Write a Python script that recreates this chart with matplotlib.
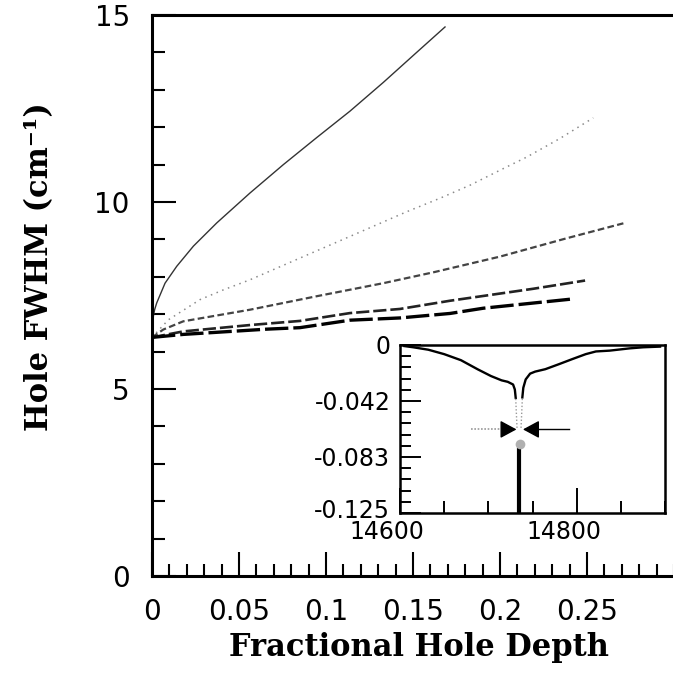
import matplotlib
matplotlib.use("Agg")
import matplotlib.pyplot as plt
import matplotlib.transforms as mtransforms
from matplotlib.ticker import MultipleLocator
import numpy as np

# ---------------- data ----------------
c1_x = [0, 0.0003, 0.0008, 0.0015, 0.0027, 0.0075, 0.0142, 0.0238, 0.0372, 0.0563, 0.0755, 0.0946, 0.1138, 0.133, 0.1521, 0.1684]
c1_y = [6.38, 6.70, 6.95, 7.12, 7.30, 7.83, 8.28, 8.82, 9.44, 10.24, 11.00, 11.72, 12.43, 13.20, 14.00, 14.68]

c2_x = [0, 0.0094, 0.0276, 0.041, 0.0563, 0.085, 0.1138, 0.1464, 0.1655, 0.1828, 0.2, 0.2153, 0.2345, 0.2536]
c2_y = [6.38, 6.85, 7.39, 7.65, 7.92, 8.50, 9.08, 9.74, 10.10, 10.45, 10.85, 11.20, 11.70, 12.25]

c3_x = [0, 0.0065, 0.018, 0.0563, 0.0946, 0.133, 0.1617, 0.2, 0.2383, 0.2709]
c3_y = [6.38, 6.59, 6.81, 7.12, 7.48, 7.83, 8.12, 8.54, 9.03, 9.43]

c4_x = [0, 0.018, 0.0563, 0.085, 0.1138, 0.1425, 0.1713, 0.2191, 0.2489]
c4_y = [6.38, 6.54, 6.71, 6.82, 7.03, 7.14, 7.36, 7.68, 7.90]

c5_x = [0, 0.018, 0.0659, 0.085, 0.1138, 0.1425, 0.1713, 0.1904, 0.2402]
c5_y = [6.38, 6.46, 6.60, 6.64, 6.84, 6.90, 7.02, 7.16, 7.40]

x_ticks = [0, 0.05, 0.1, 0.15, 0.2, 0.25]
x_ticklabels = ["0", "0.05", "0.1", "0.15", "0.2", "0.25"]
y_ticks = [0, 5, 10, 15]
y_ticklabels = ["0", "5", "10", "15"]

# inset spectrum (wavenumber, absorbance change)
left_wn = [14605, 14615, 14632, 14650, 14669, 14688, 14703, 14715, 14722, 14728, 14730, 14731]
left_ab = [-0.0008, -0.0017, -0.0035, -0.0068, -0.0113, -0.0181, -0.0231, -0.0263, -0.0274, -0.0294, -0.0331, -0.0394]
right_wn = [14738.5, 14739.6, 14742.3, 14747.3, 14753, 14764.5, 14779.8, 14795, 14810.3, 14821.8, 14837.2, 14860, 14875.3, 14894.4]
right_ab = [-0.0390, -0.0318, -0.0256, -0.0213, -0.0198, -0.0180, -0.0143, -0.0105, -0.0068, -0.0048, -0.0042, -0.0025, -0.0017, -0.0012]
holeL_wn = [14731, 14732.5]
holeL_ab = [-0.040, -0.062]
holeR_wn = [14738.5, 14737]
holeR_ab = [-0.040, -0.062]
spike_wn = [14735, 14735]
spike_ab = [-0.077, -0.13]
mark_wn = [14736]
mark_ab = [-0.0734]

arrow_y = -0.0628
arrowL_tail, arrowL_tip = 14680, 14731.9
arrowR_tail, arrowR_tip = 14791, 14739.2

in_xticks = [14600, 14800]
in_xticklabels = ["14600", "14800"]
in_yticks = [0, -0.125 / 3, -0.25 / 3, -0.125]
in_yticklabels = ["0", "-0.042", "-0.083", "-0.125"]

# ---------------- figure ----------------
W, H = 673, 687
fig = plt.figure(figsize=(W / 100, H / 100), dpi=100)

def px_axes(l, t, r, b):
    return [l / W, 1 - b / H, (r - l) / W, (b - t) / H]

ax = fig.add_axes(px_axes(152, 15, 674, 576))
ax.set_xlim(0, 0.3)
ax.set_ylim(0, 15)

ax.plot(c1_x, c1_y, color="#333333", lw=1.0)
ax.plot(c2_x, c2_y, color="#8a8a8a", lw=1.1, linestyle=(0, (1, 3)))
ax.plot(c3_x, c3_y, color="#444444", lw=1.6, linestyle=(0, (3, 1.5)))
ax.plot(c4_x, c4_y, color="#222222", lw=1.9, linestyle=(0, (5, 1.5)))
ax.plot(c5_x, c5_y, color="black", lw=2.4, linestyle=(0, (7, 1.5)))

for s in ["left", "bottom", "top"]:
    ax.spines[s].set_linewidth(2.2)
ax.spines["right"].set_visible(False)

tick_font = dict(family="DejaVu Sans", size=20)
ax.set_xticks(x_ticks)
ax.set_xticklabels(x_ticklabels, **tick_font)
ax.set_yticks(y_ticks)
ax.set_yticklabels(y_ticklabels, **tick_font)
ax.xaxis.set_minor_locator(MultipleLocator(0.01))
ax.yaxis.set_minor_locator(MultipleLocator(1))
ax.tick_params(axis="both", which="major", direction="in", length=17, width=1.5, pad=16,
               top=False, right=False)
ax.tick_params(axis="both", which="minor", direction="in", length=9, width=1.5,
               top=False, right=False)

label_font = dict(family="DejaVu Serif", weight="bold", size=22)
fig.text(419 / W, 1 - 656 / H, "Fractional Hole Depth", ha="center", va="baseline", **label_font)
fig.text(40 / W, 1 - 267 / H, "Hole FWHM (cm\u207b\u00b9)", ha="center", va="center",
         rotation=90, **label_font)

# ---------------- inset ----------------
ai = fig.add_axes(px_axes(400, 345, 665, 513))
ai.set_facecolor("white")
ai.set_xlim(14600, 14900)
ai.set_ylim(-0.125, 0)

ai.plot(left_wn, left_ab, color="black", lw=1.7)
ai.plot(right_wn, right_ab, color="black", lw=1.7)
ai.plot(holeL_wn, holeL_ab, color="#999999", lw=1.0, linestyle=(0, (1, 1.5)))
ai.plot(holeR_wn, holeR_ab, color="#999999", lw=1.0, linestyle=(0, (1, 1.5)))
ai.plot(spike_wn, spike_ab, color="black", lw=3.0, solid_capstyle="butt")
ai.plot(mark_wn, mark_ab, "o", color="#b0b0b0", markersize=7, markeredgewidth=0)

# arrows marking the hole width
ai.plot([arrowL_tail, arrowL_tip - 14], [arrow_y, arrow_y], color="#999999", lw=1.2,
        linestyle=(0, (1, 1)))
ai.plot([arrowR_tip + 14, arrowR_tail], [arrow_y, arrow_y], color="black", lw=1.0)
head = dict(arrowstyle="-|>,head_length=0.5,head_width=0.27", color="black", lw=1.0,
            mutation_scale=20, shrinkA=0, shrinkB=0)
ai.annotate("", xy=(arrowL_tip, arrow_y), xytext=(arrowL_tip - 15, arrow_y), arrowprops=head)
ai.annotate("", xy=(arrowR_tip, arrow_y), xytext=(arrowR_tip + 15, arrow_y), arrowprops=head)

for s in ai.spines.values():
    s.set_linewidth(1.8)

in_font = dict(family="DejaVu Sans", size=17)
ai.set_xticks(in_xticks)
ai.set_xticklabels(in_xticklabels, **in_font)
ai.set_yticks(in_yticks)
ai.set_yticklabels(in_yticklabels, **in_font)
ai.xaxis.set_minor_locator(MultipleLocator(50))
ai.yaxis.set_minor_locator(MultipleLocator(0.125 / 15))
ai.tick_params(axis="x", which="major", direction="in", length=18, width=1.4, pad=5)
ai.tick_params(axis="x", which="minor", direction="in", length=9, width=1.4)
ai.tick_params(axis="y", which="major", direction="in", length=15, width=1.4, pad=7)
ai.tick_params(axis="y", which="minor", direction="in", length=8, width=1.4)

off = mtransforms.ScaledTranslation(-13 / 100, 0, fig.dpi_scale_trans)
for lab in ai.get_xticklabels():
    lab.set_transform(lab.get_transform() + off)
up = mtransforms.ScaledTranslation(0, 5 / 100, fig.dpi_scale_trans)
ylabs = ai.get_yticklabels()
ylabs[-1].set_transform(ylabs[-1].get_transform() + up)

fig.savefig("out.png", dpi=100, facecolor="white")
